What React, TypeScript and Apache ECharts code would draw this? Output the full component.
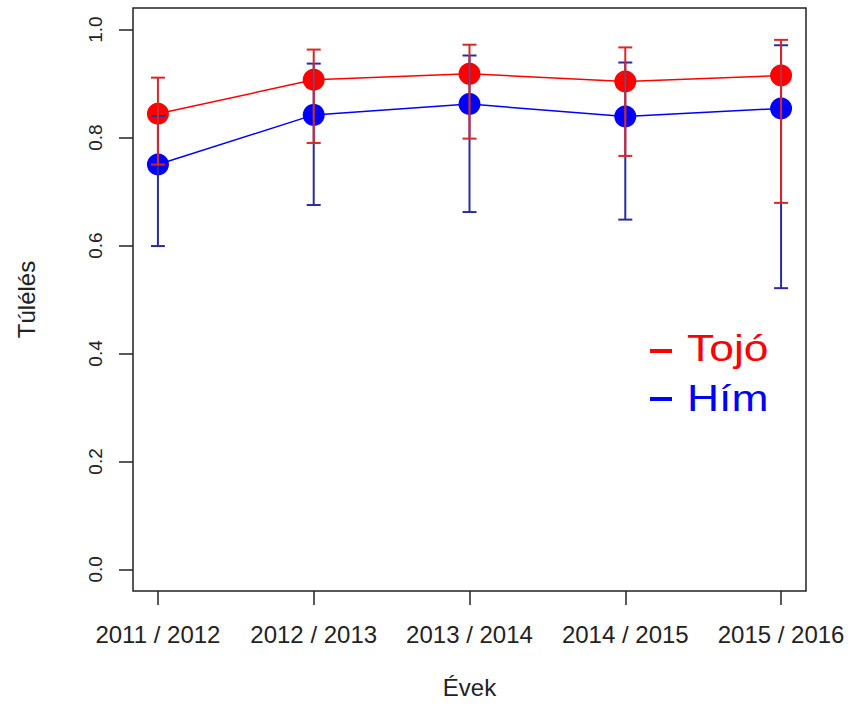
import React, { useEffect, useRef } from "react";
import * as echarts from "echarts";

const categories = ["2011 / 2012", "2012 / 2013", "2013 / 2014", "2014 / 2015", "2015 / 2016"];
const tojo = [0.844, 0.907, 0.918, 0.904, 0.915];
const tojoLower = [0.75, 0.79, 0.798, 0.766, 0.679];
const tojoUpper = [0.911, 0.963, 0.972, 0.967, 0.981];
const him = [0.75, 0.842, 0.862, 0.839, 0.854];
const himLower = [0.599, 0.675, 0.662, 0.648, 0.521];
const himUpper = [0.84, 0.937, 0.952, 0.939, 0.971];
const yTicks = [0, 0.2, 0.4, 0.6, 0.8, 1.0];

const FONT = "'Liberation Sans', Arial, Helvetica, sans-serif";

function errorSeries(name: string, lower: number[], upper: number[], color: string, z: number) {
  return {
    name,
    type: "custom",
    z,
    data: lower.map((lo, i) => [i + 1, lo, upper[i]]),
    encode: { x: 0, y: [1, 2] },
    renderItem: (params: any, api: any) => {
      const x = api.value(0);
      const lo = api.coord([x, api.value(1)]);
      const hi = api.coord([x, api.value(2)]);
      const hw = 7;
      const style = { stroke: color, lineWidth: 2 };
      return {
        type: "group",
        children: [
          { type: "line", shape: { x1: lo[0], y1: lo[1], x2: hi[0], y2: hi[1] }, style },
          { type: "line", shape: { x1: lo[0] - hw, y1: lo[1], x2: lo[0] + hw, y2: lo[1] }, style },
          { type: "line", shape: { x1: hi[0] - hw, y1: hi[1], x2: hi[0] + hw, y2: hi[1] }, style },
        ],
      };
    },
  };
}

export default function App() {
  const ref = useRef<HTMLDivElement>(null);
  useEffect(() => {
    const chart = echarts.init(ref.current!, undefined, { renderer: "svg" });
    chart.setOption({
      animation: false,
      backgroundColor: "#ffffff",
      grid: {
        left: 133,
        right: 47,
        top: 8,
        bottom: 120,
        show: true,
        borderColor: "#222",
        borderWidth: 1.5,
        containLabel: false,
      },
      xAxis: {
        type: "value",
        min: 0.84,
        max: 5.16,
        name: "Évek",
        nameLocation: "middle",
        nameGap: 84,
        nameTextStyle: { fontFamily: FONT, fontSize: 24, color: "#222" },
        splitLine: { show: false },
        axisLine: { show: false, onZero: false },
        axisTick: {
          show: true,
          inside: false,
          length: 14,
          customValues: [1, 2, 3, 4, 5],
          lineStyle: { color: "#222", width: 1.5 },
        },
        axisLabel: {
          customValues: [1, 2, 3, 4, 5],
          formatter: (v: number) => categories[Math.round(v) - 1] ?? "",
          fontFamily: FONT,
          fontSize: 24,
          color: "#222",
          margin: 31,
        },
      },
      yAxis: {
        type: "value",
        min: -0.04,
        max: 1.04,
        name: "Túlélés",
        nameLocation: "middle",
        nameGap: 95,
        nameRotate: 90,
        nameTextStyle: { fontFamily: FONT, fontSize: 24, color: "#222" },
        splitLine: { show: false },
        axisLine: { show: false, onZero: false },
        axisTick: {
          show: true,
          length: 14,
          customValues: yTicks,
          lineStyle: { color: "#222", width: 1.5 },
        },
        axisLabel: {
          customValues: yTicks,
          formatter: (v: number) => v.toFixed(1),
          rotate: 90,
          fontFamily: FONT,
          fontSize: 19,
          color: "#222",
          margin: 28,
        },
      },
      series: [
        {
          name: "Hím",
          type: "line",
          z: 2,
          data: him.map((v, i) => [i + 1, v]),
          symbol: "circle",
          symbolSize: 22,
          itemStyle: { color: "#0000ff" },
          lineStyle: { color: "#0000ff", width: 1.5 },
        },
        {
          name: "Tojó",
          type: "line",
          z: 3,
          data: tojo.map((v, i) => [i + 1, v]),
          symbol: "circle",
          symbolSize: 22,
          itemStyle: { color: "#ff0000" },
          lineStyle: { color: "#ff0000", width: 1.5 },
        },
        errorSeries("Hím CI", himLower, himUpper, "#2b2ba0", 4),
        errorSeries("Tojó CI", tojoLower, tojoUpper, "#d62828", 5),
      ],
      graphic: [
        { type: "line", shape: { x1: 650, y1: 351, x2: 672, y2: 351 }, style: { stroke: "#ff0000", lineWidth: 4 } },
        { type: "line", shape: { x1: 650, y1: 399, x2: 672, y2: 399 }, style: { stroke: "#0000ff", lineWidth: 4 } },
        {
          type: "text",
          x: 687,
          y: 348,
          scaleX: 1.2,
          style: { text: "Tojó", fill: "#ff0000", font: `37px ${FONT}`, textAlign: "left", textVerticalAlign: "middle" },
        },
        {
          type: "text",
          x: 687,
          y: 398,
          scaleX: 1.2,
          style: { text: "Hím", fill: "#0000ff", font: `37px ${FONT}`, textAlign: "left", textVerticalAlign: "middle" },
        },
      ],
    });
    return () => chart.dispose();
  }, []);
  return <div ref={ref} style={{ position: "fixed", left: 0, top: 0, width: 853, height: 711 }} />;
}
